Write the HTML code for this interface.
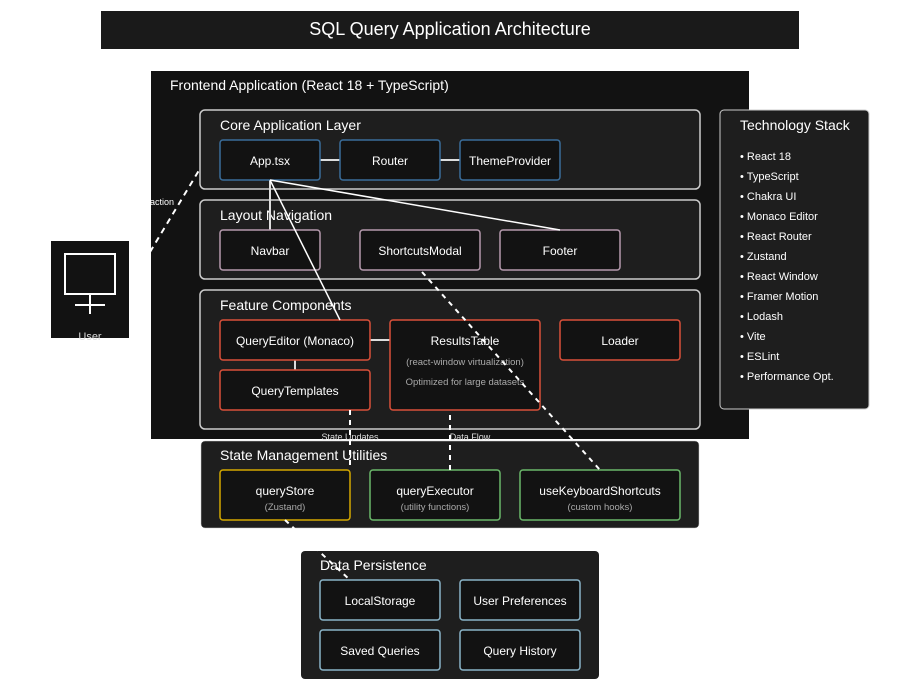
<!DOCTYPE html>
<html><head><meta charset="utf-8"><style>html,body{margin:0;padding:0;background:#fff}svg{display:block}text{font-family:"Liberation Sans",sans-serif}</style></head><body>
<svg width="900" height="700" viewBox="0 0 900 700" xmlns="http://www.w3.org/2000/svg">
<rect x="0" y="0" width="900" height="700" fill="#fff"/>
<rect x="101" y="11" width="698" height="38" fill="#1a1a1a"/>
<text x="450" y="35" font-size="18" fill="#fff" text-anchor="middle">SQL Query Application Architecture</text>

<rect x="151" y="71" width="598" height="368" fill="#121212"/>
<text x="170" y="90" font-size="14" fill="#fff">Frontend Application (React 18 + TypeScript)</text>
<text x="174" y="205" font-size="9" fill="#fff" text-anchor="end">Interaction</text>
<line x1="150" y1="252" x2="201" y2="167" stroke="#fff" stroke-width="2" stroke-dasharray="6,5"/>

<!-- user -->
<rect x="51" y="241" width="78" height="97" fill="#121212"/>
<rect x="65" y="254" width="50" height="40" fill="none" stroke="#fff" stroke-width="2"/>
<line x1="90" y1="294" x2="90" y2="314" stroke="#fff" stroke-width="2"/>
<line x1="75" y1="305" x2="105" y2="305" stroke="#fff" stroke-width="2"/>
<text x="90" y="340" font-size="11" fill="#ddd" text-anchor="middle">User</text>

<g fill="#1e1e1e" stroke="#ccc" stroke-width="1.5">
<rect x="200" y="110" width="500" height="79" rx="5"/>
<rect x="200" y="200" width="500" height="79" rx="5"/>
<rect x="200" y="290" width="500" height="139" rx="5"/>
</g>
<g font-size="14" fill="#fff">
<text x="220" y="130">Core Application Layer</text>
<text x="220" y="220">Layout Navigation</text>
<text x="220" y="310">Feature Components</text>
</g>
<g stroke="#ddd" stroke-width="2">
<line x1="320" y1="160" x2="340" y2="160"/>
<line x1="440" y1="160" x2="460" y2="160"/>
<line x1="270" y1="180" x2="270" y2="230"/>
<line x1="370" y1="340" x2="390" y2="340"/>
<line x1="295" y1="360" x2="295" y2="370"/>
</g>
<g fill="#121212" stroke-width="1.5">
<rect x="220" y="140" width="100" height="40" rx="3" stroke="#3a6d9a"/>
<rect x="340" y="140" width="100" height="40" rx="3" stroke="#3a6d9a"/>
<rect x="460" y="140" width="100" height="40" rx="3" stroke="#3a6d9a"/>
<rect x="220" y="230" width="100" height="40" rx="3" stroke="#b59aad"/>
<rect x="360" y="230" width="120" height="40" rx="3" stroke="#b59aad"/>
<rect x="500" y="230" width="120" height="40" rx="3" stroke="#b59aad"/>
<rect x="220" y="320" width="150" height="40" rx="3" stroke="#d9503a"/>
<rect x="220" y="370" width="150" height="40" rx="3" stroke="#d9503a"/>
<rect x="390" y="320" width="150" height="90" rx="3" stroke="#d9503a"/>
<rect x="560" y="320" width="120" height="40" rx="3" stroke="#d9503a"/>
</g>
<g font-size="12" fill="#fff" text-anchor="middle">
<text x="270" y="165">App.tsx</text>
<text x="390" y="165">Router</text>
<text x="510" y="165">ThemeProvider</text>
<text x="270" y="255">Navbar</text>
<text x="420" y="255">ShortcutsModal</text>
<text x="560" y="255">Footer</text>
<text x="295" y="345">QueryEditor (Monaco)</text>
<text x="295" y="395">QueryTemplates</text>
<text x="465" y="345">ResultsTable</text>
<text x="620" y="345">Loader</text>
</g>
<g font-size="9.5" fill="#aaa" text-anchor="middle">
<text x="465" y="365">(react-window virtualization)</text>
<text x="465" y="385">Optimized for large datasets</text>
</g>
<g stroke="#fff" stroke-width="1.5" fill="none">
<line x1="270" y1="180" x2="340" y2="320"/>
<line x1="270" y1="180" x2="560" y2="230"/>
</g>

<text x="350" y="440" font-size="9" fill="#ddd" text-anchor="middle">State Updates</text>
<text x="470" y="440" font-size="9" fill="#ddd" text-anchor="middle">Data Flow</text>

<rect x="201" y="441" width="498" height="87" rx="4" fill="#1e1e1e" stroke="#ccc" stroke-width="0.5"/>
<text x="220" y="460" font-size="14" fill="#fff">State Management Utilities</text>
<g fill="#121212" stroke-width="1.5">
<rect x="220" y="470" width="130" height="50" rx="3" stroke="#d4a800"/>
<rect x="370" y="470" width="130" height="50" rx="3" stroke="#6ab86a"/>
<rect x="520" y="470" width="160" height="50" rx="3" stroke="#6ab86a"/>
</g>
<g font-size="12" fill="#fff" text-anchor="middle">
<text x="285" y="495">queryStore</text>
<text x="435" y="495">queryExecutor</text>
<text x="600" y="495">useKeyboardShortcuts</text>
</g>
<g font-size="9.5" fill="#aaa" text-anchor="middle">
<text x="285" y="510">(Zustand)</text>
<text x="435" y="510">(utility functions)</text>
<text x="600" y="510">(custom hooks)</text>
</g>

<rect x="301" y="551" width="298" height="128" rx="4" fill="#1e1e1e"/>
<text x="320" y="570" font-size="14" fill="#fff">Data Persistence</text>
<g fill="#121212" stroke="#8ab4c8" stroke-width="1.5">
<rect x="320" y="580" width="120" height="40" rx="3"/>
<rect x="460" y="580" width="120" height="40" rx="3"/>
<rect x="320" y="630" width="120" height="40" rx="3"/>
<rect x="460" y="630" width="120" height="40" rx="3"/>
</g>
<g font-size="12" fill="#fff" text-anchor="middle">
<text x="380" y="605">LocalStorage</text>
<text x="520" y="605">User Preferences</text>
<text x="380" y="655">Saved Queries</text>
<text x="520" y="655">Query History</text>
</g>

<g stroke="#fff" stroke-width="2" stroke-dasharray="5,5" fill="none">
<line x1="350" y1="410" x2="350" y2="465"/>
<line x1="450" y1="415" x2="450" y2="470"/>
<line x1="422" y1="272" x2="600" y2="470"/>
<line x1="285" y1="520" x2="350" y2="580"/>
</g>

<rect x="720" y="110" width="149" height="299" rx="4" fill="#1e1e1e" stroke="#ccc" stroke-width="1"/>
<text x="740" y="130" font-size="14" fill="#fff">Technology Stack</text>
<g font-size="11" fill="#fff">
<text x="740" y="160">• React 18</text>
<text x="740" y="180">• TypeScript</text>
<text x="740" y="200">• Chakra UI</text>
<text x="740" y="220">• Monaco Editor</text>
<text x="740" y="240">• React Router</text>
<text x="740" y="260">• Zustand</text>
<text x="740" y="280">• React Window</text>
<text x="740" y="300">• Framer Motion</text>
<text x="740" y="320">• Lodash</text>
<text x="740" y="340">• Vite</text>
<text x="740" y="360">• ESLint</text>
<text x="740" y="380">• Performance Opt.</text>
</g>
</svg>
</body></html>
